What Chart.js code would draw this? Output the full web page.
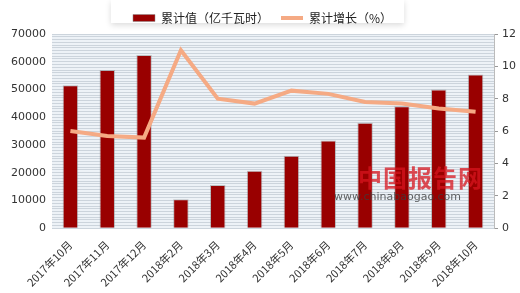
<!DOCTYPE html>
<html>
<head>
<meta charset="utf-8">
<script src="https://cdn.jsdelivr.net/npm/chart.js@4.4.0/dist/chart.umd.min.js"></script>
<style>
    body { margin: 0; background: #fff; }
    #wrap { position: relative; width: 520px; height: 293px; }
    #mark { position: absolute; left: 358px; top: 164px; color: rgba(215, 20, 30, 0.75); font-family: 'Noto Sans CJK SC'; pointer-events: none; }
    #mark .big { font-size: 24px; font-weight: bold; line-height: 26px; letter-spacing: 1px; }
    #mark .small { font-size: 11px; color: rgba(60, 60, 60, 0.8); font-family: 'DejaVu Sans'; margin-left: -24px; }
</style>
</head>
<body>
<div id="wrap">
    <canvas id="chart" width="520" height="293"></canvas>
    <div id="mark"><div class="big">中国报告网</div><div class="small">www.chinabaogao.com</div></div>
</div>
<script>
// 데이터
const months = ['2017年10月', '2017年11月', '2017年12月', '2018年2月', '2018年3月', '2018年4月',
    '2018年5月', '2018年6月', '2018年7月', '2018年8月', '2018年9月', '2018年10月'];
const totalValues = [51500, 57000, 62400, 10400, 15600, 20700, 26100, 31600, 38000, 44000, 50000, 55400];
const growthValues = [6.0, 5.7, 5.6, 11.0, 8.0, 7.7, 8.5, 8.3, 7.8, 7.7, 7.4, 7.2];
const leftTicks = [0, 10000, 20000, 30000, 40000, 50000, 60000, 70000];
const rightTicks = [0, 2, 4, 6, 8, 10, 12];

// 플롯 영역 배경
const plotBg = {
    id: 'plotBg',
    beforeDraw(chart) {
        const { ctx, chartArea: a } = chart;
        ctx.save();
        ctx.fillStyle = '#edf2f7';
        ctx.fillRect(a.left, a.top, a.right - a.left, a.bottom - a.top);
        ctx.restore();
    }
};

// 범례 흰 박스 (항목 위치 기준)
const legendBox = {
    id: 'legendBox',
    beforeDraw(chart) {
        const lg = chart.legend;
        if (!lg || !lg.legendHitBoxes || !lg.legendHitBoxes.length) return;
        const boxes = lg.legendHitBoxes;
        const x0 = Math.min(...boxes.map(b => b.left)) - 22;
        const x1 = Math.max(...boxes.map(b => b.left + b.width)) + 12;
        const { ctx } = chart;
        ctx.save();
        ctx.shadowColor = 'rgba(0,0,0,0.15)';
        ctx.shadowBlur = 6;
        ctx.shadowOffsetY = 2;
        ctx.fillStyle = '#fff';
        ctx.fillRect(x0, 0, x1 - x0, 23);
        ctx.restore();
    }
};

new Chart(document.getElementById('chart'), {
    data: {
        labels: months,
        datasets: [{
            type: 'line',
            label: '累计增长（%）',
            data: growthValues,
            yAxisID: 'y1',
            borderColor: '#f5aa84',
            backgroundColor: '#f5aa84',
            borderWidth: 4,
            pointRadius: 0,
            tension: 0,
            pointStyle: 'line',
            order: 0
        }, {
            type: 'bar',
            label: '累计值（亿千瓦时）',
            data: totalValues,
            yAxisID: 'y',
            backgroundColor: '#990000',
            borderColor: 'rgba(140,140,140,0.5)',
            borderWidth: 1,
            categoryPercentage: 1,
            barPercentage: 0.42,
            pointStyle: 'rect',
            order: 1
        }]
    },
    options: {
        responsive: false,
        animation: false,
        layout: { padding: { left: 5, right: 0, top: 0, bottom: 2 } },
        plugins: {
            legend: {
                reverse: true,
                labels: {
                    usePointStyle: true,
                    pointStyleWidth: 22,
                    boxHeight: 7,
                    padding: 12,
                    color: '#222',
                    font: { family: 'Noto Sans CJK SC', size: 12 }
                }
            },
            tooltip: { enabled: false }
        },
        scales: {
            x: {
                grid: { display: false },
                border: { display: false },
                ticks: {
                    maxRotation: 45,
                    minRotation: 45,
                    autoSkip: false,
                    padding: 2,
                    color: '#333',
                    font: { family: 'Noto Sans CJK SC', size: 11 }
                }
            },
            y: {
                position: 'left',
                min: 0,
                max: 70000,
                border: { display: false },
                grid: { color: '#ccd4dc', drawTicks: false, lineWidth: 1 },
                ticks: {
                    stepSize: 1000,
                    autoSkip: false,
                    padding: 6,
                    color: '#333',
                    font: { family: 'DejaVu Sans', size: 11 },
                    callback: v => leftTicks.includes(v) ? v : ''
                }
            },
            y1: {
                position: 'right',
                min: 0,
                max: 12,
                border: { display: true, color: '#bbb' },
                grid: { drawOnChartArea: false, drawTicks: true, tickLength: 4, color: '#999' },
                ticks: {
                    stepSize: 2,
                    padding: 4,
                    color: '#333',
                    font: { family: 'DejaVu Sans', size: 11 },
                    callback: v => rightTicks.includes(v) ? v : ''
                }
            }
        }
    },
    plugins: [plotBg, legendBox]
});
</script>
</body>
</html>
